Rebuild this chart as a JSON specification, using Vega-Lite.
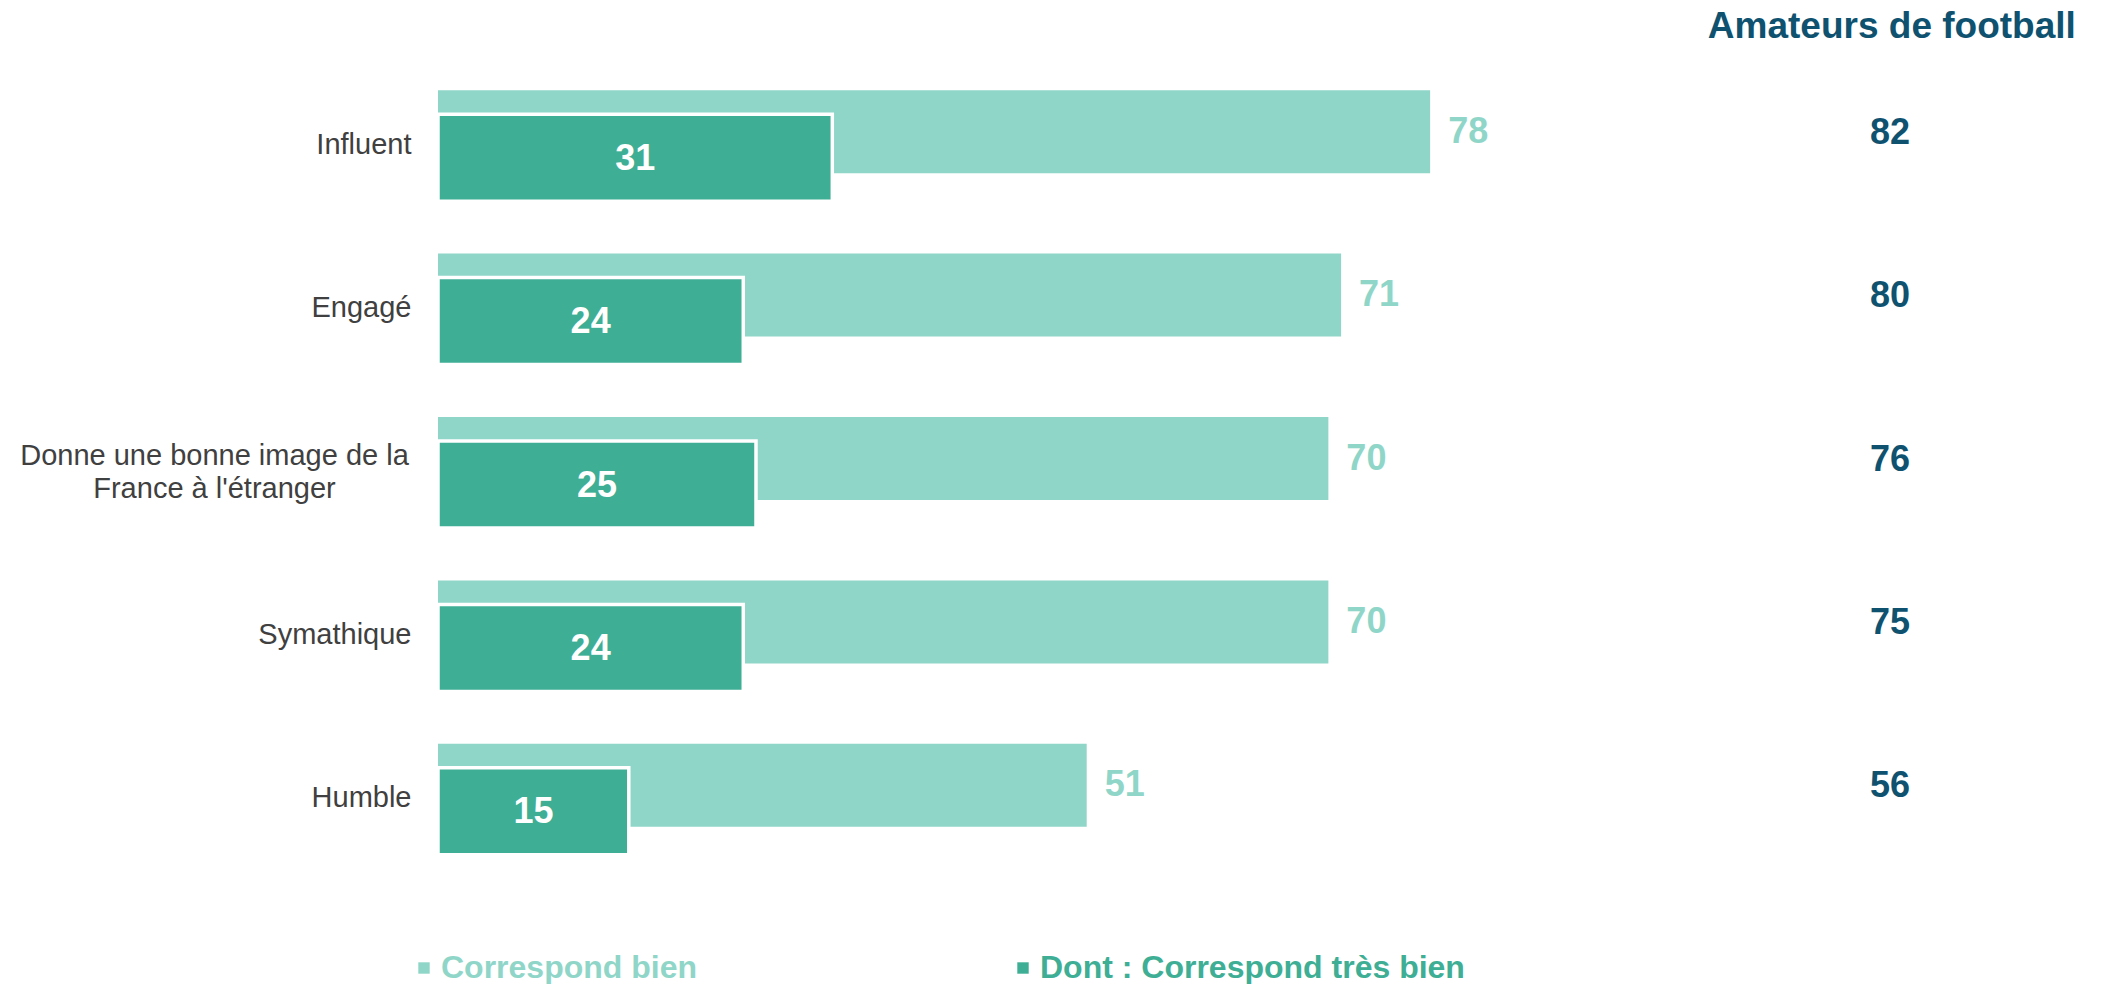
{
  "$schema": "https://vega.github.io/schema/vega-lite/v6.json",
  "autosize": {"type": "none"},
  "padding": {"left": 438, "top": 63, "right": 0, "bottom": 104},
  "width": 1665,
  "height": 817,
  "background": "white",
  "config": {
    "font": "Liberation Sans",
    "view": {"stroke": null}
  },
  "data": {
    "values": [
      {"item": "Influent", "bien": 78, "tres": 31, "amateurs": 82},
      {"item": "Engagé", "bien": 71, "tres": 24, "amateurs": 80},
      {"item": "Donne une bonne image de la France à l'étranger", "bien": 70, "tres": 25, "amateurs": 76},
      {"item": "Symathique", "bien": 70, "tres": 24, "amateurs": 75},
      {"item": "Humble", "bien": 51, "tres": 15, "amateurs": 56}
    ]
  },
  "resolve": {"scale": {"x": "independent"}},
  "encoding": {
    "y": {
      "field": "item",
      "type": "nominal",
      "sort": null,
      "scale": {"paddingInner": 0, "paddingOuter": 0},
      "axis": {
        "title": null,
        "domain": false,
        "ticks": false,
        "tickSize": 0,
        "grid": false,
        "labelPadding": {"condition": {"test": "indexof(datum.value,'Donne')==0", "value": 224}, "value": 27},
        "labelAlign": {"condition": {"test": "indexof(datum.value,'Donne')==0", "value": "center"}, "value": "right"},
        "labelOffset": {"condition": {"test": "indexof(datum.value,'Donne')==0", "value": -16}, "value": 0},
        "labelFontSize": 29,
        "labelFont": "Liberation Sans",
        "labelColor": "#404040",
        "labelLimit": 0,
        "labelLineHeight": 33,
        "labelExpr": "indexof(datum.value,'Donne')==0 ? ['Donne une bonne image de la', \"France à l'étranger\"] : datum.value"
      }
    }
  },
  "layer": [
    {
      "mark": {"type": "bar", "height": 83, "yOffset": -13},
      "encoding": {
        "x": {"field": "bien", "type": "quantitative", "scale": {"domain": [0, 130.9], "nice": false, "zero": true}, "axis": null},
        "color": {
          "datum": "Correspond bien",
          "type": "nominal",
          "scale": {"domain": ["Correspond bien", "Dont : Correspond très bien"], "range": ["#8fd6c8", "#3eae94"]},
          "legend": {
            "orient": "none",
            "legendX": -30,
            "legendY": 889,
            "direction": "horizontal",
            "title": null,
            "symbolType": "square",
            "symbolSize": 130,
            "symbolStrokeWidth": 0,
            "labelFontSize": 32,
            "labelFont": "Liberation Sans",
            "labelFontWeight": "bold",
            "labelOffset": 1,
            "columnPadding": 309,
            "labelLimit": 0,
            "padding": 0,
            "encode": {
              "labels": {
                "update": {
                  "fill": {"signal": "datum.value === 'Correspond bien' ? '#8fd6c8' : '#3eae94'"}
                }
              }
            }
          }
        }
      }
    },
    {
      "mark": {"type": "bar", "height": 87, "yOffset": 13, "stroke": "white", "strokeWidth": 3.5},
      "encoding": {
        "x": {"field": "tres", "type": "quantitative", "scale": {"domain": [0, 130.9], "nice": false, "zero": true}, "axis": null},
        "color": {"datum": "Dont : Correspond très bien", "type": "nominal"}
      }
    },
    {
      "mark": {"type": "text", "align": "left", "baseline": "middle", "dx": 18, "yOffset": -13, "fontSize": 36, "fontWeight": "bold", "color": "#8fd6c8"},
      "encoding": {
        "x": {"field": "bien", "type": "quantitative", "scale": {"domain": [0, 130.9], "nice": false, "zero": true}, "axis": null},
        "text": {"field": "bien"}
      }
    },
    {
      "mark": {"type": "text", "align": "center", "baseline": "middle", "yOffset": 14, "fontSize": 36, "fontWeight": "bold", "color": "white"},
      "encoding": {
        "x": {"field": "tres", "type": "quantitative", "scale": {"domain": [0, 261.8], "nice": false, "zero": true}, "axis": null},
        "text": {"field": "tres"}
      }
    },
    {
      "mark": {"type": "text", "align": "center", "baseline": "middle", "yOffset": -12, "fontSize": 36, "fontWeight": "bold", "color": "#0e5270"},
      "encoding": {
        "x": {"datum": 114.15, "type": "quantitative", "scale": {"domain": [0, 130.9], "nice": false, "zero": true}, "axis": null},
        "text": {"field": "amateurs"}
      }
    },
    {
      "data": {"values": [{"head": "Amateurs de football", "item": "Influent"}]},
      "mark": {"type": "text", "align": "center", "baseline": "middle", "yOffset": -118, "fontSize": 37, "fontWeight": "bold", "color": "#0e5270"},
      "encoding": {
        "x": {"datum": 114.3, "type": "quantitative", "scale": {"domain": [0, 130.9], "nice": false, "zero": true}, "axis": null},
        "text": {"field": "head"}
      }
    }
  ]
}
